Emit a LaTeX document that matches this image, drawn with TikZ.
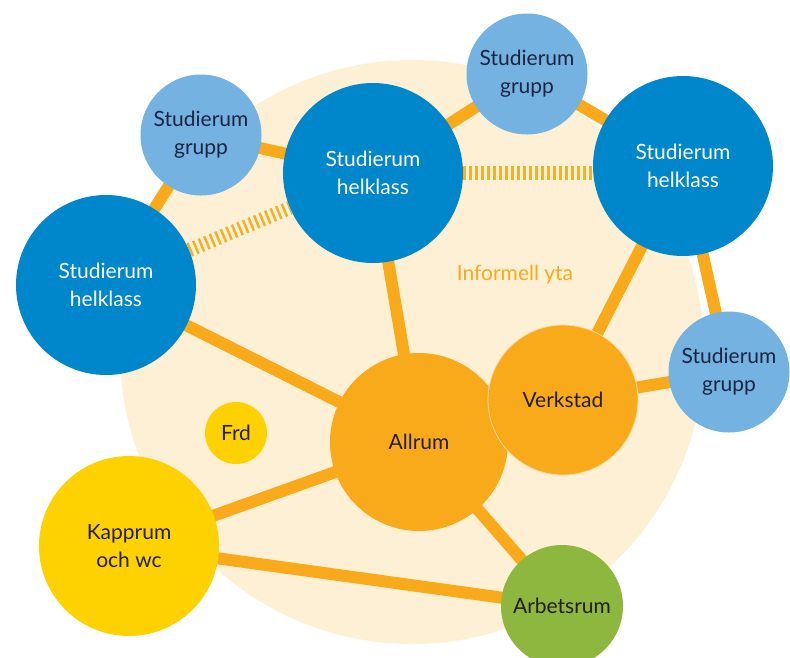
\documentclass[tikz,border=0pt]{standalone}
\usepackage{fontspec}
\setmainfont{Lato}
\usepackage{tikz}
\usetikzlibrary{positioning}

\definecolor{mblue}{HTML}{0086CB}
\definecolor{lblue}{HTML}{74B3E1}
\definecolor{morange}{HTML}{F8AA1B}
\definecolor{myellow}{HTML}{FDD200}
\definecolor{mgreen}{HTML}{8DB73E}
\definecolor{bgyellow}{HTML}{FDF0D4}
\definecolor{hatchcol}{HTML}{EDB231}
\definecolor{navy}{HTML}{1B2440}
\definecolor{txt}{HTML}{231F20}

\pgfdeclarelayer{bg}
\pgfsetlayers{bg,main}

\begin{document}
\begin{tikzpicture}[x=1pt,y=-1pt,
    room/.style={circle,inner sep=0pt,align=center,font=\fontsize{21}{28}\selectfont},
    helklass/.style={room,fill=mblue,text=white,minimum size=180pt},
    grupp/.style={room,fill=lblue,text=navy,minimum size=121pt},
    link/.style={morange,line width=12pt},
    hatchlink/.style={hatchcol,line width=14pt,dash pattern=on 2.5pt off 3.5pt}]
        \path[use as bounding box,clip] (0,0) rectangle (790,657);

        % 部屋の描画
        \node[grupp] (g1) at (201,135) {Studierum\\grupp};
        \node[grupp] (g2) at (527,74) {Studierum\\grupp};
        \node[grupp] (g3) at (729,372) {Studierum\\grupp};
        \node[helklass] (h1) at (373,173) {Studierum\\helklass};
        \node[helklass] (h2) at (683,166) {Studierum\\helklass};
        \node[helklass] (h3) at (106,285) {Studierum\\helklass};
        \node[room,fill=morange,text=txt,minimum size=178pt] (all) at (419,442) {Allrum};
        \node[room,fill=morange,text=txt,minimum size=150pt,draw=white!60!morange,line width=.8pt] (verk) at (563,400) {Verkstad};
        \node[room,fill=myellow,text=txt,minimum size=62pt] (frd) at (236,433) {Frd};
        \node[room,fill=myellow,text=txt,minimum size=180pt] (kapp) at (129,546) {Kapprum\\och wc};
        \node[room,fill=mgreen,text=txt,minimum size=122pt] (arb) at (562,606) {Arbetsrum};
        \node[font=\fontsize{21}{28}\selectfont,text=morange] (yta) at (515,275) {Informell yta};

        % 背景と線の描画
        \begin{pgfonlayer}{bg}
            \fill[bgyellow] (412,352) circle (292);
            \draw[link] (g1.center) -- (h1.center);
            \draw[link] (g1.center) -- (h3.center);
            \draw[link] (h1.center) -- (g2.center);
            \draw[link] (g2.center) -- (h2.center);
            \draw[link] (h1.center) -- (all.center);
            \draw[link] (h3.center) -- (all.center);
            \draw[link] (h2.center) -- (verk.center);
            \draw[link] (h2.center) -- (g3.center);
            \draw[link] (verk.center) -- (g3.center);
            \draw[link] (all.center) -- (kapp.center);
            \draw[link] (all.center) -- (arb.center);
            \draw[link] (kapp.center) -- (arb.center);
            \draw[hatchlink] (h1.east) -- (h1.east -| h2.west);
            \draw[hatchlink] (h3) -- (h1);
        \end{pgfonlayer}
    \end{tikzpicture}
\end{document}
